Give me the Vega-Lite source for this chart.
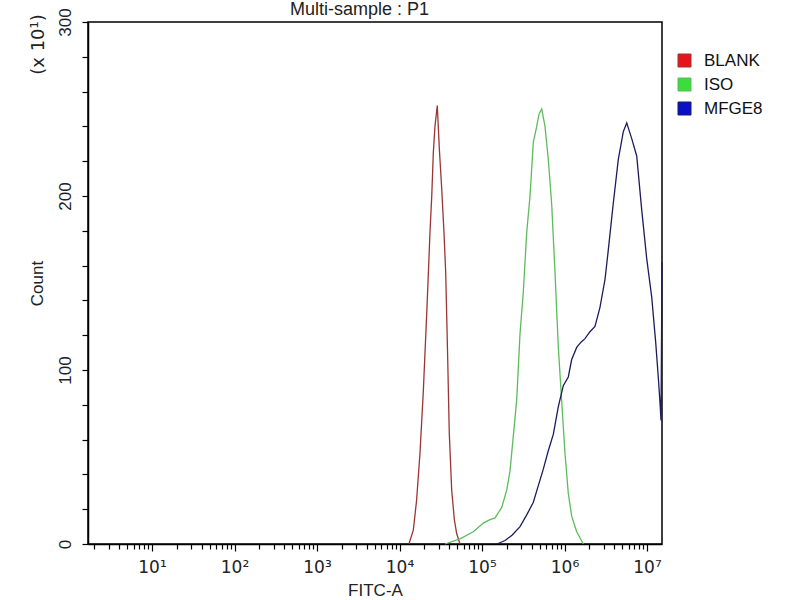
{
  "$schema": "https://vega.github.io/schema/vega-lite/v6.json",
  "autosize": "none",
  "width": 574,
  "height": 522,
  "padding": {"left": 88, "top": 22, "right": 138, "bottom": 56},
  "background": "white",
  "config": {
    "font": "Liberation Sans",
    "view": {"stroke": "#000", "strokeWidth": 1.5},
    "axis": {"grid": false, "domainColor": "#000", "domainWidth": 1.5, "tickColor": "#000", "labelColor": "#222", "titleColor": "#222", "labelFont": "Liberation Sans", "titleFont": "Liberation Sans", "titleFontWeight": "normal"}
  },
  "title": {"text": "Multi-sample : P1", "anchor": "start", "frame": "group", "dx": 202, "dy": 15, "offset": 4, "fontSize": 18, "fontWeight": "normal", "color": "#222", "font": "Liberation Sans"},
  "data": {"values": [
    {"s": "BLANK", "x": 13000, "c": 0},
    {"s": "BLANK", "x": 14700, "c": 8},
    {"s": "BLANK", "x": 16100, "c": 25},
    {"s": "BLANK", "x": 17700, "c": 52},
    {"s": "BLANK", "x": 19400, "c": 87},
    {"s": "BLANK", "x": 21400, "c": 133},
    {"s": "BLANK", "x": 22400, "c": 156},
    {"s": "BLANK", "x": 23400, "c": 179},
    {"s": "BLANK", "x": 24600, "c": 200},
    {"s": "BLANK", "x": 25700, "c": 225},
    {"s": "BLANK", "x": 26900, "c": 240},
    {"s": "BLANK", "x": 28700, "c": 252},
    {"s": "BLANK", "x": 30400, "c": 227},
    {"s": "BLANK", "x": 32500, "c": 204},
    {"s": "BLANK", "x": 34600, "c": 179},
    {"s": "BLANK", "x": 36300, "c": 156},
    {"s": "BLANK", "x": 38400, "c": 106},
    {"s": "BLANK", "x": 40100, "c": 64},
    {"s": "BLANK", "x": 42900, "c": 31},
    {"s": "BLANK", "x": 46200, "c": 14},
    {"s": "BLANK", "x": 49300, "c": 6},
    {"s": "BLANK", "x": 54100, "c": 0},
    {"s": "ISO", "x": 35600, "c": 0},
    {"s": "ISO", "x": 54100, "c": 3},
    {"s": "ISO", "x": 78500, "c": 7},
    {"s": "ISO", "x": 103800, "c": 12},
    {"s": "ISO", "x": 125000, "c": 14},
    {"s": "ISO", "x": 143800, "c": 15},
    {"s": "ISO", "x": 173400, "c": 21},
    {"s": "ISO", "x": 199300, "c": 31},
    {"s": "ISO", "x": 218500, "c": 42},
    {"s": "ISO", "x": 239500, "c": 62},
    {"s": "ISO", "x": 263500, "c": 83},
    {"s": "ISO", "x": 289000, "c": 121},
    {"s": "ISO", "x": 316800, "c": 145},
    {"s": "ISO", "x": 348200, "c": 179},
    {"s": "ISO", "x": 381900, "c": 200},
    {"s": "ISO", "x": 418900, "c": 231},
    {"s": "ISO", "x": 460300, "c": 240},
    {"s": "ISO", "x": 490800, "c": 247},
    {"s": "ISO", "x": 529200, "c": 250},
    {"s": "ISO", "x": 580400, "c": 240},
    {"s": "ISO", "x": 636600, "c": 221},
    {"s": "ISO", "x": 699800, "c": 195},
    {"s": "ISO", "x": 767400, "c": 156},
    {"s": "ISO", "x": 841600, "c": 113},
    {"s": "ISO", "x": 925000, "c": 82},
    {"s": "ISO", "x": 1014000, "c": 52},
    {"s": "ISO", "x": 1112000, "c": 29},
    {"s": "ISO", "x": 1222000, "c": 16},
    {"s": "ISO", "x": 1405000, "c": 7},
    {"s": "ISO", "x": 1690000, "c": 0},
    {"s": "MFGE8", "x": 152000, "c": 0},
    {"s": "MFGE8", "x": 190100, "c": 2},
    {"s": "MFGE8", "x": 231100, "c": 5},
    {"s": "MFGE8", "x": 289000, "c": 10},
    {"s": "MFGE8", "x": 351000, "c": 17},
    {"s": "MFGE8", "x": 418900, "c": 24},
    {"s": "MFGE8", "x": 477500, "c": 33},
    {"s": "MFGE8", "x": 553300, "c": 43},
    {"s": "MFGE8", "x": 630900, "c": 53},
    {"s": "MFGE8", "x": 731500, "c": 63},
    {"s": "MFGE8", "x": 841600, "c": 79},
    {"s": "MFGE8", "x": 966800, "c": 91},
    {"s": "MFGE8", "x": 1112000, "c": 96},
    {"s": "MFGE8", "x": 1222000, "c": 106},
    {"s": "MFGE8", "x": 1405000, "c": 113},
    {"s": "MFGE8", "x": 1585000, "c": 116},
    {"s": "MFGE8", "x": 1771000, "c": 118},
    {"s": "MFGE8", "x": 2036000, "c": 122},
    {"s": "MFGE8", "x": 2342000, "c": 125},
    {"s": "MFGE8", "x": 2692000, "c": 136},
    {"s": "MFGE8", "x": 3096000, "c": 152},
    {"s": "MFGE8", "x": 3396000, "c": 169},
    {"s": "MFGE8", "x": 3906000, "c": 196},
    {"s": "MFGE8", "x": 4491000, "c": 221},
    {"s": "MFGE8", "x": 5163000, "c": 237},
    {"s": "MFGE8", "x": 5678000, "c": 242},
    {"s": "MFGE8", "x": 6528000, "c": 233},
    {"s": "MFGE8", "x": 7505000, "c": 223},
    {"s": "MFGE8", "x": 8628000, "c": 192},
    {"s": "MFGE8", "x": 9920000, "c": 164},
    {"s": "MFGE8", "x": 11400000, "c": 142},
    {"s": "MFGE8", "x": 12740000, "c": 116},
    {"s": "MFGE8", "x": 13700000, "c": 96},
    {"s": "MFGE8", "x": 14380000, "c": 81},
    {"s": "MFGE8", "x": 14790000, "c": 71},
    {"s": "MFGE8", "x": 15200000, "c": 162}
  ]},
  "encoding": {
    "x": {"field": "x", "type": "quantitative",
      "scale": {"type": "log", "domain": [1.675, 15200000], "nice": false},
      "axis": {
        "title": "FITC-A", "titleFontSize": 17, "titlePadding": 7,
        "values": [2,3,4,5,6,7,8,9,10,20,30,40,50,60,70,80,90,100,200,300,400,500,600,700,800,900,1000,2000,3000,4000,5000,6000,7000,8000,9000,10000,20000,30000,40000,50000,60000,70000,80000,90000,100000,200000,300000,400000,500000,600000,700000,800000,900000,1000000,2000000,3000000,4000000,5000000,6000000,7000000,8000000,9000000,10000000],
        "labelExpr": "abs(log(datum.value)/LN10 - round(log(datum.value)/LN10)) < 0.001 ? '10' + ['⁰','¹','²','³','⁴','⁵','⁶','⁷'][round(log(datum.value)/LN10)] : ''",
        "labelFont": "DejaVu Sans", "labelFontSize": 17, "labelPadding": 8, "labelFlush": false, "labelOverlap": false,
        "tickSize": {"condition": {"test": "abs(log(datum.value)/LN10 - round(log(datum.value)/LN10)) < 0.001", "value": 7}, "value": 5},
        "tickWidth": 1.2
      }
    },
    "color": {"field": "s", "type": "nominal",
      "scale": {"domain": ["BLANK", "ISO", "MFGE8"], "range": ["#9b3535", "#5cbc5c", "#1c1c5c"]},
      "legend": {
        "title": null, "orient": "none", "legendX": 588, "legendY": 30,
        "symbolType": "square", "symbolSize": 169, "labelFontSize": 17, "labelColor": "#111",
        "labelOffset": 11, "rowPadding": 6,
        "encode": {"symbols": {"update": {
          "fill": {"signal": "datum.value === 'BLANK' ? '#e8141c' : datum.value === 'ISO' ? '#3ddc3d' : '#0a10c8'"},
          "stroke": {"value": "#000"}, "strokeWidth": {"value": 1}, "opacity": {"value": 1}, "fillOpacity": {"value": 1}
        }}}
      }
    }
  },
  "layer": [
    {
      "transform": [{"filter": "datum.s !== 'MFGE8'"}],
      "mark": {"type": "line", "strokeWidth": 1.3},
      "encoding": {
        "y": {"field": "c", "type": "quantitative",
          "scale": {"domain": [0, 300], "nice": false},
          "axis": {"title": "Count", "titleFontSize": 17, "titlePadding": 10,
            "values": [0,20,40,60,80,100,120,140,160,180,200,220,240,260,280,300],
            "labelExpr": "datum.value % 100 === 0 ? datum.label : ''",
            "labelAngle": 270, "labelFontSize": 17, "labelPadding": 8, "labelOverlap": false, "labelFlush": false,
            "tickSize": 6, "tickWidth": 1.2}
        }
      }
    },
    {
      "transform": [{"filter": "datum.s === 'MFGE8'"}],
      "mark": {"type": "line", "strokeWidth": 1.3},
      "encoding": {
        "y": {"field": "c", "type": "quantitative",
          "scale": {"domain": [0, 300], "nice": false},
          "axis": {"orient": "right", "title": "(x 10¹)", "titleFontSize": 18, "titleFont": "DejaVu Sans",
            "labels": false, "ticks": false, "domain": false,
            "titleAngle": 270, "titleAlign": "center", "titleBaseline": "middle",
            "titleX": -624, "titleY": 22}
        }
      }
    }
  ],
  "resolve": {"scale": {"y": "independent"}}
}
